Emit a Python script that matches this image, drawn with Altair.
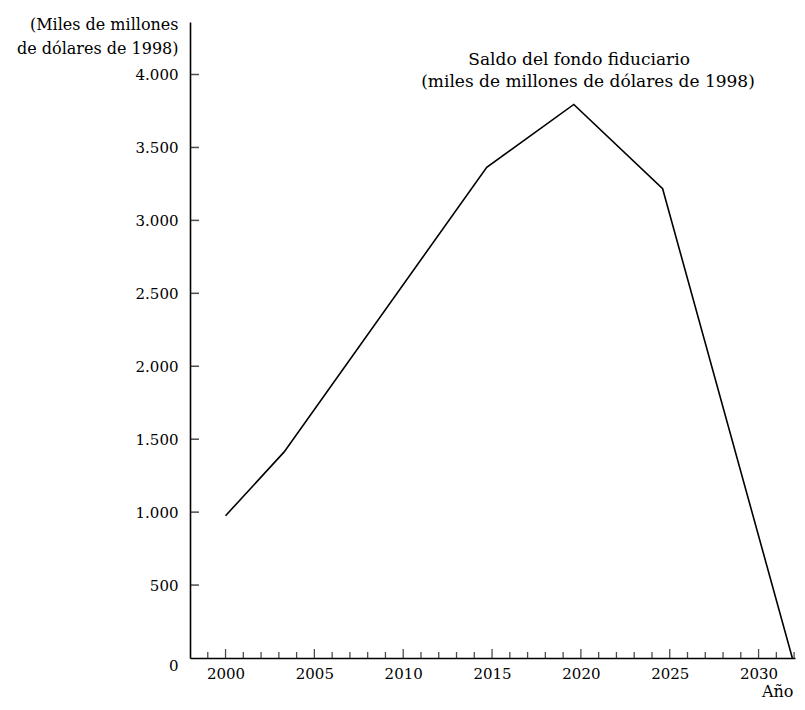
import altair as alt
import pandas as pd

# Data
years = [2000.0, 2003.3, 2014.7, 2019.6, 2024.6, 2031.9]
balance = [975, 1413, 3364, 3795, 3217, 0]

y_tick_values = [0, 500, 1000, 1500, 2000, 2500, 3000, 3500, 4000]
y_inner_ticks = [500, 1000, 1500, 2000, 2500, 3000, 3500, 4000]
x_label_values = [2000, 2005, 2010, 2015, 2020, 2025, 2030]
x_ticks_major = [2000, 2005, 2010, 2015, 2020, 2025, 2030]
x_ticks_minor = [1999, 2001, 2002, 2003, 2004, 2006, 2007, 2008, 2009,
                 2011, 2012, 2013, 2014, 2016, 2017, 2018, 2019,
                 2021, 2022, 2023, 2024, 2026, 2027, 2028, 2029, 2031, 2032]

note_text = ["Saldo del fondo fiduciario", "(miles de millones de dólares de 1998)"]
note_year = [2019.9, 2020.4]
note_value = [4100, 3950]

y_title = ["(Miles de millones", "de dólares de 1998)"]
x_title = "Año"

X_MIN, X_MAX = 1998.0, 2032.05
W, H = 605, 636
FONT = "DejaVu Serif"

df = pd.DataFrame({"year": years, "value": balance})
ytick_df = pd.DataFrame({"tv": y_inner_ticks})
xmaj_df = pd.DataFrame({"ty": x_ticks_major})
xmin_df = pd.DataFrame({"ty": x_ticks_minor})
note_df = pd.DataFrame({"text": note_text, "ny": note_year, "nv": note_value})


def xscale():
    return alt.Scale(domain=[X_MIN, X_MAX], nice=False, zero=False)


def yscale():
    return alt.Scale(domain=[0, 4360], nice=False)


x_axis = alt.Axis(
    values=x_label_values, format="d", ticks=False, tickSize=0, grid=False,
    domain=True, domainColor="black", domainWidth=1.6,
    labelFont=FONT, labelFontSize=15, labelColor="black", labelPadding=8,
    title=x_title, titleFont=FONT, titleFontSize=16, titleFontWeight="normal",
    titleColor="black", titleAnchor="end", titleAlign="right",
    titleBaseline="alphabetic", titleX=W - 2, titleY=38)

y_axis = alt.Axis(
    values=y_tick_values, ticks=False, tickSize=0, grid=False,
    domain=True, domainColor="black", domainWidth=1.6,
    labelFont=FONT, labelFontSize=15, labelColor="black", labelPadding=12,
    labelExpr="replace(format(datum.value, ','), ',', '.')",
    labelBaseline={"condition": {"test": "datum.value === 0", "value": "top"},
                   "value": "middle"},
    title=y_title, titleFont=FONT, titleFontSize=16, titleFontWeight="normal",
    titleColor="black", titleAngle=0, titleAlign="right", titleBaseline="alphabetic",
    titleX=-12, titleY=7, titleLineHeight=24)

# only the line layer carries the axes; the other layers share its scales
line = alt.Chart(df).mark_line(color="black", strokeWidth=1.6).encode(
    x=alt.X("year:Q", scale=xscale(), axis=x_axis),
    y=alt.Y("value:Q", scale=yscale(), axis=y_axis),
)

# inward-pointing ticks hugging the two axis lines
yticks = alt.Chart(ytick_df).mark_tick(
    orient="horizontal", color="black", thickness=1.5, size=9, xOffset=4.5
).encode(
    y=alt.Y("tv:Q", scale=yscale(), axis=None),
    x=alt.XDatum(X_MIN, scale=xscale(), axis=None),
)

xmaj = alt.Chart(xmaj_df).mark_tick(
    orient="vertical", color="black", thickness=1.3, size=9, yOffset=-4.5
).encode(
    x=alt.X("ty:Q", scale=xscale(), axis=None),
    y=alt.YDatum(0, scale=yscale(), axis=None),
)

xmin = alt.Chart(xmin_df).mark_tick(
    orient="vertical", color="black", thickness=1.3, size=6, yOffset=-3
).encode(
    x=alt.X("ty:Q", scale=xscale(), axis=None),
    y=alt.YDatum(0, scale=yscale(), axis=None),
)

notes = alt.Chart(note_df).mark_text(
    font=FONT, fontSize=17, color="black", align="center", baseline="middle"
).encode(
    x=alt.X("ny:Q", scale=xscale(), axis=None),
    y=alt.Y("nv:Q", scale=yscale(), axis=None),
    text="text:N",
)

chart = alt.layer(line, yticks, xmaj, xmin, notes).resolve_scale(
    x="shared", y="shared"
).resolve_axis(
    x="independent", y="independent"
).properties(
    width=W, height=H,
    autosize=alt.AutoSizeParams(type="none"),
    padding={"left": 182, "top": 14, "right": 2, "bottom": 41},
    background="white",
).configure_view(stroke=None)

chart.save("out.html", embed_options={"renderer": "svg", "actions": False})
